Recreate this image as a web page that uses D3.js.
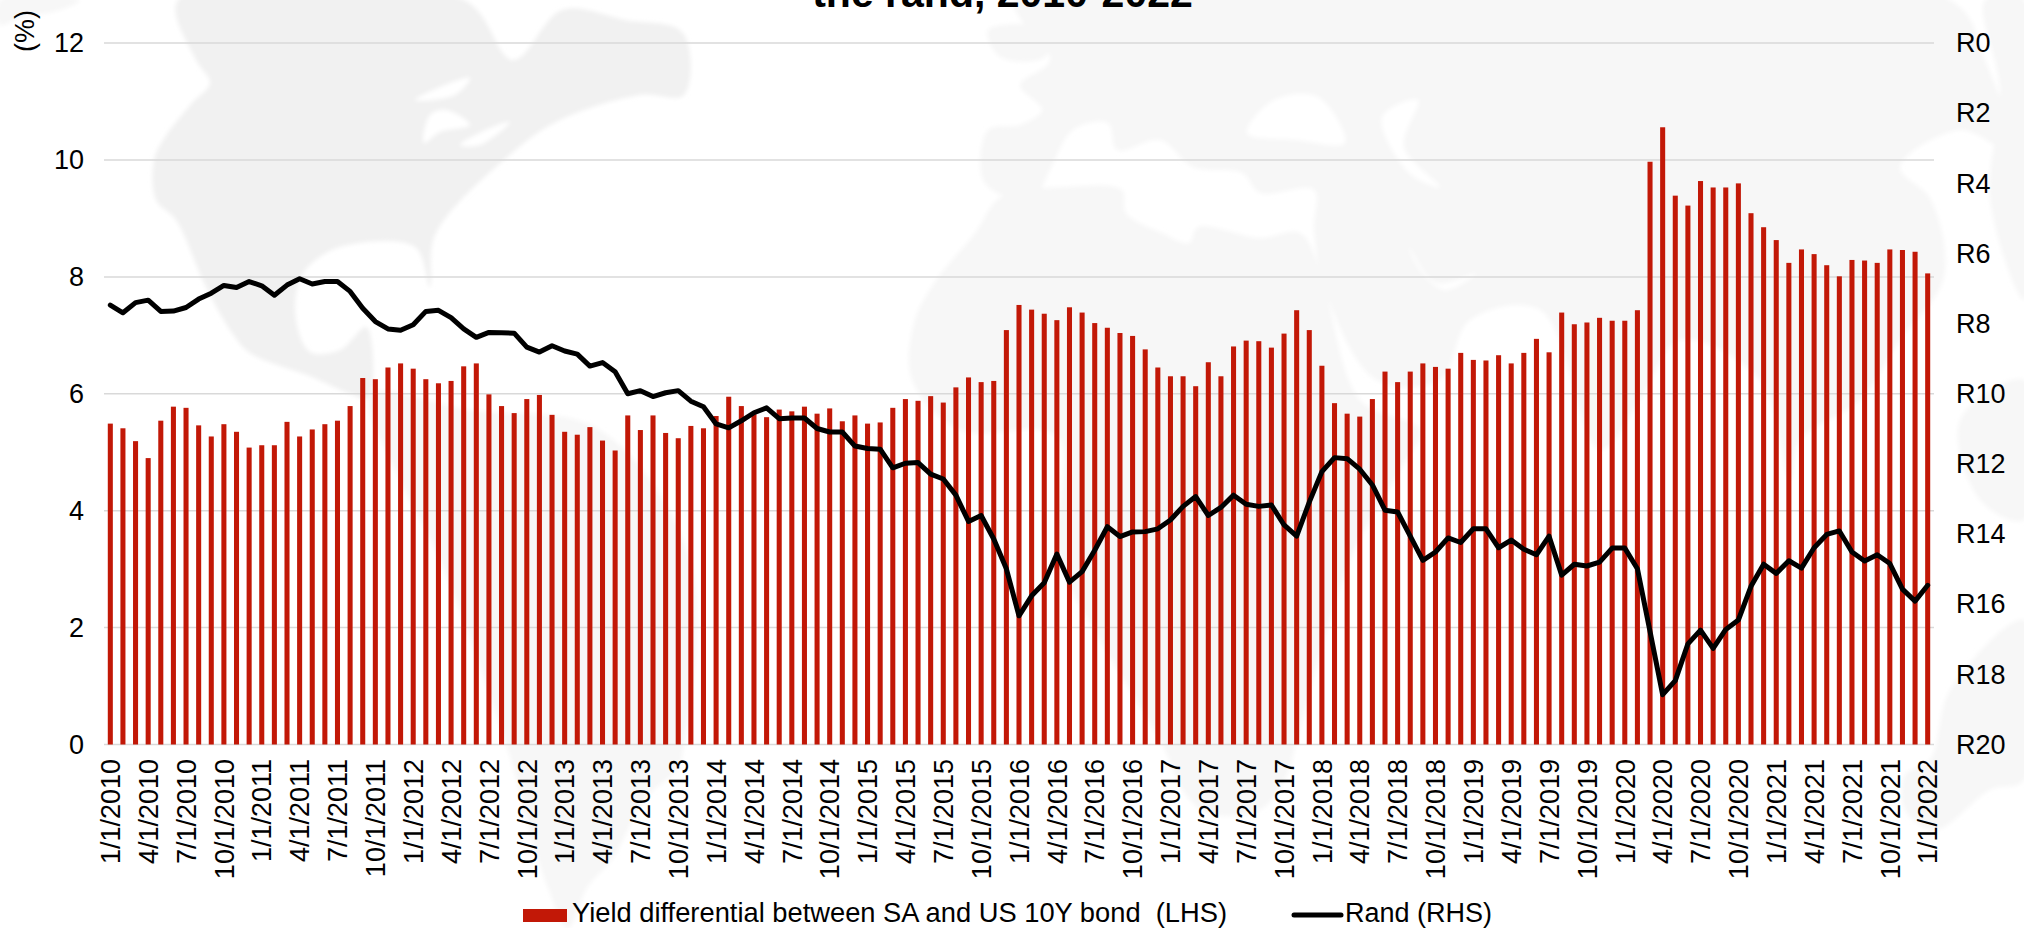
<!DOCTYPE html>
<html><head><meta charset="utf-8">
<script src="https://cdn.jsdelivr.net/npm/d3@7"></script>
<style>
html,body{margin:0;padding:0;background:#fff;overflow:hidden}
text{font-family:"Liberation Sans",Arial,sans-serif;fill:#000}
</style></head><body>
<svg id="c" width="2024" height="928"></svg>
<script>
// ---- data -------------------------------------------------
const yieldDiff = [5.49,5.41,5.19,4.90,5.54,5.78,5.76,5.46,5.27,5.48,5.35,5.08,
5.12,5.12,5.52,5.27,5.39,5.48,5.54,5.79,6.27,6.25,6.45,6.52,
6.43,6.25,6.18,6.22,6.47,6.52,5.99,5.79,5.67,5.91,5.98,5.64,
5.35,5.30,5.43,5.20,5.03,5.63,5.38,5.63,5.33,5.24,5.45,5.41,
5.62,5.95,5.79,5.65,5.60,5.73,5.70,5.78,5.66,5.75,5.53,5.63,
5.49,5.51,5.76,5.91,5.88,5.96,5.85,6.11,6.28,6.20,6.22,7.09,
7.52,7.44,7.37,7.26,7.48,7.39,7.21,7.13,7.04,6.99,6.76,6.45,
6.30,6.30,6.13,6.54,6.30,6.81,6.91,6.90,6.79,7.03,7.43,7.09,
6.48,5.84,5.66,5.61,5.91,6.38,6.20,6.38,6.52,6.46,6.43,6.70,
6.58,6.57,6.66,6.52,6.70,6.94,6.71,7.39,7.19,7.22,7.30,7.25,
7.25,7.43,9.97,10.56,9.39,9.22,9.64,9.53,9.53,9.60,9.09,8.85,
8.63,8.24,8.47,8.39,8.20,8.01,8.29,8.28,8.24,8.47,8.46,8.43,8.06];
const rand = [7.47,7.69,7.40,7.33,7.65,7.64,7.54,7.30,7.13,6.91,6.97,6.80,
6.92,7.19,6.90,6.72,6.87,6.80,6.80,7.08,7.56,7.94,8.15,8.19,
8.03,7.65,7.62,7.83,8.15,8.39,8.25,8.26,8.27,8.67,8.81,8.63,
8.78,8.87,9.21,9.11,9.37,10.00,9.91,10.08,9.97,9.91,10.21,10.37,
10.86,10.97,10.77,10.54,10.40,10.71,10.69,10.69,10.99,11.09,11.09,11.49,
11.56,11.58,12.11,11.98,11.96,12.29,12.43,12.89,13.64,13.47,14.14,14.99,
16.33,15.76,15.39,14.57,15.37,15.07,14.46,13.79,14.07,13.94,13.93,13.85,
13.60,13.21,12.93,13.47,13.24,12.89,13.15,13.21,13.17,13.74,14.06,13.09,
12.22,11.82,11.85,12.15,12.60,13.32,13.37,14.06,14.75,14.51,14.11,14.24,
13.85,13.85,14.39,14.17,14.43,14.59,14.06,15.17,14.86,14.91,14.80,14.40,
14.40,14.99,16.78,18.58,18.18,17.13,16.74,17.26,16.72,16.45,15.49,14.86,
15.12,14.76,14.97,14.39,14.01,13.91,14.51,14.77,14.59,14.84,15.57,15.91,15.46];
const leftTicks = [0,2,4,6,8,10,12];
const rightTicks = [0,2,4,6,8,10,12,14,16,18,20];
const titleText = "the rand, 2010-2022";
const unitText = "(%)";
const legendBar = "Yield differential between SA and US 10Y bond  (LHS)";
const legendLine = "Rand (RHS)";

// decorative world-map backdrop (outline points of the pale image behind the plot)
const landDark = [
 [[178,0],[196,60],[210,83],[192,103],[165,137],[154,160],[156,200],[176,220],[205,285],[232,333],[250,353],[312,377],[348,393],[368,398],[372,345],[366,327],[340,350],[310,352],[296,320],[298,285],[308,267],[340,247],[415,247],[430,287],[435,235],[512,153],[560,120],[640,95],[684,95],[683,33],[625,20],[562,10],[513,60],[464,0]]
];
const landPale = [
 [[0,0],[80,0],[60,10],[20,18],[0,25]],
 [[370,395],[470,410],[600,430],[690,560],[684,745],[677,769],[645,799],[613,858],[587,888],[568,928],[548,888],[529,828],[510,757],[440,560],[400,480]],
 [[988,30],[1050,30],[1045,57],[1000,57]],
 [[1015,0],[1950,0],[1985,60],[2010,150],[1960,130],[1900,167],[1931,200],[1944,277],[1900,340],[1860,400],[1800,440],[1790,480],[1760,380],[1680,340],[1640,400],[1600,450],[1540,310],[1470,320],[1440,380],[1376,380],[1324,287],[1314,230],[1314,190],[1260,193],[1242,173],[1193,167],[1160,140],[1117,150],[1108,123],[1073,130],[1050,170],[1033,200],[1006,197],[983,180],[988,130],[1020,125],[1042,110],[1020,85],[1050,60]],
 [[1001,197],[1064,187],[1122,190],[1126,213],[1162,233],[1189,243],[1198,227],[1260,238],[1300,233],[1320,270],[1360,400],[1420,430],[1400,470],[1350,560],[1296,744],[1287,775],[1260,810],[1207,813],[1184,792],[1162,744],[1100,640],[1060,560],[1060,440],[1040,430],[960,430],[912,380],[914,323],[934,283],[975,233]],
 [[2024,620],[1950,690],[1930,760],[1905,775],[1905,810],[1935,830],[1990,790],[2024,780]],
 [[1985,0],[2024,0],[2024,300],[1990,200],[2000,90]],
 [[1960,420],[2024,380],[2024,520],[1980,500]]
];
const waterBlobs = [
 [[424,143],[430,115],[446,110],[470,125],[440,132]],
 [[460,145],[490,128],[510,122],[480,145]],
 [[415,100],[445,85],[470,78],[455,95]],
 [[1247,133],[1274,100],[1318,97],[1345,143],[1296,140]],
 [[1382,117],[1418,100],[1404,147],[1440,187],[1409,173]],
 [[1409,247],[1436,283],[1476,273],[1445,290],[1420,270]]
];

// ---- layout -----------------------------------------------
const left=104,right=1934,top0=43.1,base=744.5;
const svg=d3.select("#c");
const months=d3.range(yieldDiff.length).map(i=>new Date(2010,i,1));
const fmt=d=>`${d.getMonth()+1}/${d.getDate()}/${d.getFullYear()}`;
const x=d3.scaleBand().domain(months.map(fmt)).range([left,right]).paddingInner(0.6).paddingOuter(0.3);
const yL=d3.scaleLinear().domain([0,12]).range([base,top0]);
const yR=d3.scaleLinear().domain([0,20]).range([top0,base]);

// backdrop
const defs=svg.append("defs");
defs.append("filter").attr("id","soft").append("feGaussianBlur").attr("stdDeviation",2);
const blob=d3.line().curve(d3.curveCatmullRomClosed.alpha(0.5));
const map=svg.append("g").attr("filter","url(#soft)");
map.append("g").selectAll("path").data(landPale).join("path").attr("d",blob).attr("fill","#f7f7f7");
map.append("g").selectAll("path").data(landDark).join("path").attr("d",blob).attr("fill","#f1f1f1");
map.append("g").selectAll("path").data(waterBlobs).join("path").attr("d",blob).attr("fill","#ffffff");

// grid
svg.append("g").selectAll("line").data(leftTicks).join("line")
 .attr("x1",left).attr("x2",right).attr("y1",d=>yL(d)).attr("y2",d=>yL(d))
 .attr("stroke","#d9d9d9").attr("stroke-width",1.5);

// bars
svg.append("g").selectAll("rect").data(yieldDiff).join("rect")
 .attr("x",(d,i)=>x(fmt(months[i]))).attr("width",x.bandwidth())
 .attr("y",d=>yL(d)).attr("height",d=>yL(0)-yL(d)).attr("fill","#c21807");

// line
svg.append("path").datum(rand)
 .attr("d",d3.line().x((d,i)=>x(fmt(months[i]))+x.bandwidth()/2).y(d=>yR(d)).curve(d3.curveLinear))
 .attr("fill","none").attr("stroke","#000").attr("stroke-width",5).attr("stroke-linejoin","round").attr("stroke-linecap","round");

// axes
const fs=27;
const gL=svg.append("g").attr("transform",`translate(84,0)`).call(d3.axisLeft(yL).tickValues(leftTicks).tickSize(0).tickPadding(0).tickFormat(d3.format("d")));
gL.select(".domain").remove(); gL.selectAll("text").attr("font-size",fs);
const gR=svg.append("g").attr("transform",`translate(1956,0)`).call(d3.axisRight(yR).tickValues(rightTicks).tickSize(0).tickPadding(0).tickFormat(d=>"R"+d));
gR.select(".domain").remove(); gR.selectAll("text").attr("font-size",fs);
const gX=svg.append("g").attr("transform",`translate(0,759)`).call(d3.axisBottom(x).tickValues(months.filter((d,i)=>i%3===0).map(fmt)).tickSize(0).tickPadding(0));
gX.select(".domain").remove();
gX.selectAll("text").attr("font-size",fs).attr("text-anchor","end").attr("transform","rotate(-90)").attr("x",0).attr("y",0).attr("dy","0.36em");

// unit + title
svg.append("text").attr("transform","translate(25,31) rotate(-90)").attr("text-anchor","middle").attr("dy","0.35em").attr("font-size",fs).text(unitText);
svg.append("text").attr("x",1002.5).attr("y",7).attr("text-anchor","middle").attr("font-weight","bold").attr("font-size",41).text(titleText);

// legend
svg.append("rect").attr("x",523).attr("y",909).attr("width",44).attr("height",13).attr("fill","#c21807");
svg.append("text").attr("x",572).attr("y",921.5).attr("font-size",27.3).style("white-space","pre").text(legendBar);
svg.append("line").attr("x1",1294).attr("x2",1341).attr("y1",915).attr("y2",915).attr("stroke","#000").attr("stroke-width",5).attr("stroke-linecap","round");
svg.append("text").attr("x",1345).attr("y",921.5).attr("font-size",fs).text(legendLine);
</script>
</body></html>
